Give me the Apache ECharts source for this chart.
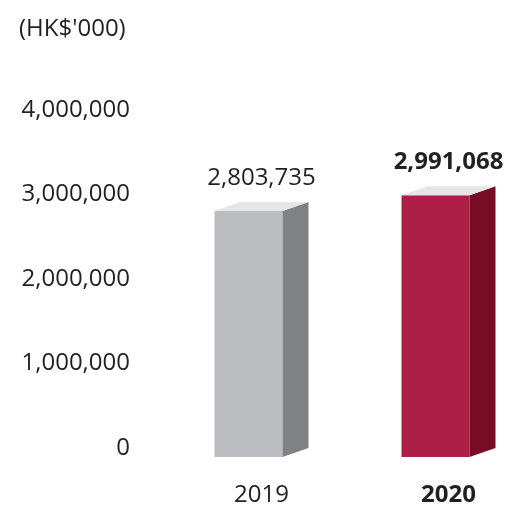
<!DOCTYPE html>
<html>
<head>
<meta charset="utf-8">
<script src="https://cdn.jsdelivr.net/npm/echarts@6/dist/echarts.min.js"></script>
<style>
  html, body { margin: 0; padding: 0; background: #fff; }
  #chart { width: 515px; height: 506px; }
</style>
</head>
<body>
<div id="chart"></div>
<script>
const categories = ['2019', '2020']
const values = [2803735, 2991068]
const yTicks = [0, 1000000, 2000000, 3000000, 4000000]
const unitLabel = "(HK$'000)"

// face colours per bar: front, side, top
const palette = [
  { front: '#bcbdc1', side: '#808185', top: '#e5e5e7' },
  { front: '#ae1f48', side: '#770c24', top: '#e5e5e7' }
]
const ink = '#231f20'
const fontFamily = '"Open Sans", "Noto Sans", sans-serif'
const fontSize = 24

const FRONT_W = 68
const SIDE_W = 26
const DEPTH = 9

const chart = echarts.init(document.getElementById('chart'), null, { renderer: 'canvas' })

const fmt = (v) => v.toLocaleString('en-US')

chart.setOption({
  animation: false,
  textStyle: { fontFamily, color: ink },
  title: {
    text: unitLabel,
    left: 14,
    top: 12,
    textStyle: { fontFamily, fontSize, fontWeight: 'normal', color: ink }
  },
  // the grid runs past the right edge so the category bands land where the reference puts them
  grid: { left: 168, width: 374, top: 110, bottom: 58, outerBoundsMode: 'none', containLabel: false },
  xAxis: {
    type: 'category',
    data: categories.map((c, i) => i === categories.length - 1
      ? { value: c, textStyle: { fontWeight: 'bold' } }
      : c),
    axisLine: { show: false },
    axisTick: { show: false },
    axisLabel: { color: ink, fontSize, fontFamily, margin: 35 }
  },
  yAxis: {
    type: 'value',
    min: yTicks[0],
    max: yTicks[yTicks.length - 1],
    interval: yTicks[1] - yTicks[0],
    splitLine: { show: false },
    axisLine: { show: false },
    axisTick: { show: false },
    axisLabel: { color: ink, fontSize, fontFamily, margin: 38, formatter: (v) => fmt(v) }
  },
  series: [{
    type: 'custom',
    data: values.map((v, i) => [i, v]),
    renderItem: (params, api) => {
      const idx = api.value(0)
      const val = api.value(1)
      const top = api.coord([idx, val])
      const base = api.coord([idx, 0])
      const cx = top[0]
      const x0 = cx - (FRONT_W + SIDE_W) / 2
      const x1 = x0 + FRONT_W
      const x2 = x1 + SIDE_W
      const yT = top[1]
      const yB = base[1] + DEPTH
      const c = palette[params.dataIndex]
      const last = params.dataIndex === values.length - 1
      return {
        type: 'group',
        children: [
          { type: 'polygon', shape: { points: [[x0, yT], [x1, yT], [x1, yB], [x0, yB]] },
            style: { fill: c.front } },
          { type: 'polygon', shape: { points: [[x1, yT], [x2, yT - DEPTH], [x2, yB - DEPTH], [x1, yB]] },
            style: { fill: c.side } },
          { type: 'polygon', shape: { points: [[x0, yT], [x0 + SIDE_W, yT - DEPTH], [x2, yT - DEPTH], [x1, yT]] },
            style: { fill: c.top } },
          { type: 'text', style: {
              text: fmt(val), x: cx, y: yT - 33,
              align: 'center', verticalAlign: 'middle',
              fill: ink,
              font: (last ? 'bold ' : '') + fontSize + 'px ' + fontFamily
          } }
        ]
      }
    }
  }]
})
</script>
</body>
</html>
